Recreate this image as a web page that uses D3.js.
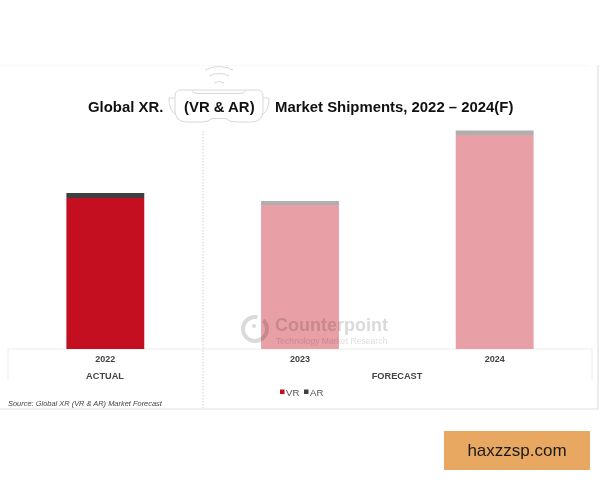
<!DOCTYPE html>
<html>
<head>
<meta charset="utf-8">
<script src="https://cdn.jsdelivr.net/npm/d3@7"></script>
<style>
html, body { margin: 0; padding: 0; background: #fff; }
text { font-family: "Liberation Sans", Arial, sans-serif; }
</style>
</head>
<body>
<svg id="chart" width="600" height="480"></svg>
<script>
var years = ["2022", "2023", "2024"];
// shipments, the chart has no value axis so units are relative
var vrValues = [151, 144, 214];
var arValues = [5, 4, 4.5];
var vrColors = ["#c40f20", "#e8a0a6", "#e8a0a6"];
var arColors = ["#3f3f41", "#b0aeae", "#b0aeae"];
var legendLabels = ["VR", "AR"];
var legendColors = ["#c40f20", "#3f3f41"];

var svg = d3.select("#chart");

var x = d3.scaleBand().domain(years).range([8, 592]).paddingInner(0.6).paddingOuter(0.3);
var y = d3.scaleLinear().domain([0, 220]).range([349, 129]);

// frame
var frame = svg.append("g").attr("fill", "none");
frame.append("path").attr("d", "M8,380V349H592V380").attr("stroke", "#ececec");
frame.append("line").attr("x1", 0).attr("x2", 590).attr("y1", 65.5).attr("y2", 65.5).attr("stroke", "#f8f8f8");
frame.append("path").attr("d", "M598,65V409H0").attr("stroke", "#e0e0e0").attr("stroke-width", 1.2);
frame.append("line").attr("x1", 203).attr("x2", 203).attr("y1", 131).attr("y2", 408)
    .attr("stroke", "#d0d0d0").attr("stroke-dasharray", "1.5,1.5");

// bars
var bars = svg.append("g").selectAll("g").data(years).enter().append("g");
bars.append("rect")
    .attr("x", function(d) { return x(d); })
    .attr("width", x.bandwidth())
    .attr("y", function(d, i) { return y(vrValues[i]); })
    .attr("height", function(d, i) { return y(0) - y(vrValues[i]); })
    .attr("fill", function(d, i) { return vrColors[i]; });
bars.append("rect")
    .attr("x", function(d) { return x(d); })
    .attr("width", x.bandwidth())
    .attr("y", function(d, i) { return y(vrValues[i] + arValues[i]); })
    .attr("height", function(d, i) { return y(vrValues[i]) - y(vrValues[i] + arValues[i]); })
    .attr("fill", function(d, i) { return arColors[i]; });

// watermark sits over the bars, multiply so the pink shows through
var wm = svg.append("g").style("mix-blend-mode", "multiply");
wm.append("path").attr("transform", "translate(255,329)")
    .attr("d", d3.arc().innerRadius(10).outerRadius(14).startAngle(0.75).endAngle(Math.PI * 2 + 0.2)())
    .attr("fill", "#dadada");
wm.append("circle").attr("cx", 254).attr("cy", 326).attr("r", 2).attr("fill", "#dadada");
wm.append("text").attr("x", 275).attr("y", 331).attr("font-size", 18).attr("font-weight", "bold")
    .attr("fill", "#dadada").text("Counterpoint");
wm.append("text").attr("x", 276).attr("y", 343.5).attr("font-size", 8.6)
    .attr("fill", "#dedede").text("Technology Market Research");

// tick labels
var axis = svg.append("g")
    .attr("transform", "translate(0,349)")
    .call(d3.axisBottom(x).tickSize(0).tickPadding(7));
axis.select(".domain").remove();
axis.selectAll("text")
    .attr("font-size", 9).attr("font-weight", "bold").attr("fill", "#444")
    .style("font-family", '"Liberation Sans", Arial, sans-serif');

// group labels
svg.append("text").attr("x", 105).attr("y", 379).attr("text-anchor", "middle")
    .attr("font-size", 9.2).attr("font-weight", "bold").attr("fill", "#444").text("ACTUAL");
svg.append("text").attr("x", 397).attr("y", 379).attr("text-anchor", "middle")
    .attr("font-size", 9.2).attr("font-weight", "bold").attr("fill", "#444").text("FORECAST");

// headset behind the title
var headset = svg.append("g").attr("fill", "none").attr("stroke", "#d8d8d8").attr("stroke-width", 1);
headset.append("path").attr("d", "M181,90H257Q263,90 263,96V110Q263,122 251,122H236Q229,122 226,118.5H212Q209,122 202,122H187Q175,122 175,110V96Q175,90 181,90Z");
headset.append("path").attr("d", "M192,90Q193,93.5 198,93.5H240Q245,93.5 246,90");
headset.append("path").attr("d", "M175,98H169Q169,110 175,114M263,98H269Q269,110 263,114");
headset.append("path").attr("d", "M205,70Q219,63 233,70M209,76Q219,71 229,76M214,83Q219,80 224,83");

// title
var titleParts = [["Global XR.", 88], ["(VR & AR)", 184], ["Market Shipments, 2022 – 2024(F)", 275]];
svg.append("g").selectAll("text").data(titleParts).enter().append("text")
    .attr("x", function(d) { return d[1]; })
    .attr("y", 112)
    .attr("font-size", 14.9).attr("font-weight", "bold").attr("fill", "#111")
    .text(function(d) { return d[0]; });

// legend
var legendX = [280, 304];
var legend = svg.append("g").selectAll("g").data(legendLabels).enter().append("g");
legend.append("rect")
    .attr("x", function(d, i) { return legendX[i]; })
    .attr("y", 389.5).attr("width", 4.5).attr("height", 4.5)
    .attr("fill", function(d, i) { return legendColors[i]; });
legend.append("text")
    .attr("x", function(d, i) { return legendX[i] + 6; })
    .attr("y", 395.5).attr("font-size", 9.6).attr("fill", "#555")
    .text(function(d) { return d; });

// source
svg.append("text").attr("x", 8).attr("y", 406).attr("font-size", 7.45)
    .attr("font-style", "italic").attr("fill", "#444")
    .text("Source: Global XR (VR & AR) Market Forecast");

// site badge
svg.append("rect").attr("x", 444).attr("y", 431).attr("width", 146).attr("height", 39).attr("fill", "#e8a862");
svg.append("text").attr("x", 517).attr("y", 456).attr("text-anchor", "middle")
    .attr("font-size", 17).attr("fill", "#1a1a1a").text("haxzzsp.com");
</script>
</body>
</html>
